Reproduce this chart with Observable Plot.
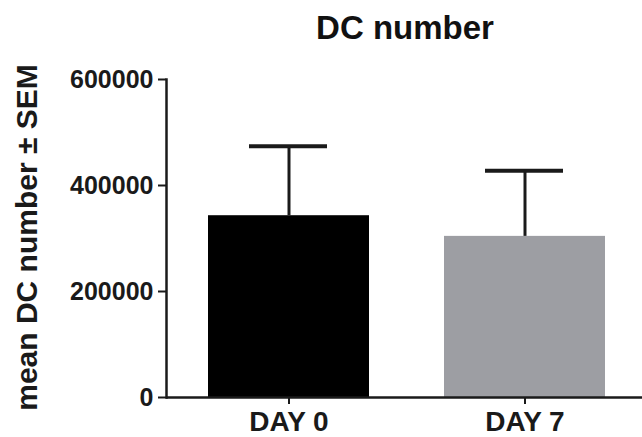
<!DOCTYPE html>
<html>
<head>
<meta charset="utf-8">
<script src="https://cdn.jsdelivr.net/npm/d3@7"></script>
<script src="https://cdn.jsdelivr.net/npm/@observablehq/plot@0.6"></script>
<style>
  html, body { margin: 0; padding: 0; background: #fff; }
  #wrap { width: 642px; font-family: "Liberation Sans", Arial, sans-serif; }
  #title { box-sizing: border-box; height: 50px; padding-top: 9px; line-height: 38px;
           margin-left: 168px; width: 474px; text-align: center;
           font-size: 33px; font-weight: bold; color: #111; }
</style>
</head>
<body>
<div id="wrap">
  <div id="title">DC number</div>
  <div id="chart"></div>
</div>
<script>
const days = ["DAY 0", "DAY 7"];
const means = [343000, 304000];
const sems = [131000, 124000];
const yTicks = [0, 200000, 400000, 600000];
const colors = ["#000000", "#9d9ea3"];

const data = days.map((d, i) => ({day: d, mean: means[i], upper: means[i] + sems[i], color: colors[i]}));

const ink = "#1a1a1a";
const plot = Plot.plot({
  width: 642,
  height: 387,
  marginTop: 29,
  marginBottom: 40,
  marginLeft: 166,
  marginRight: 0,
  style: {fontFamily: "Liberation Sans, Arial, sans-serif", fontWeight: "bold", color: ink, background: "#fff"},
  x: {domain: days, paddingInner: 0.316, paddingOuter: 0.1624, align: 0.53, axis: null},
  y: {domain: [0, 600000], axis: null},
  color: {type: "identity"},
  marks: [
    Plot.barY(data, {x: "day", y: "mean", fill: "color"}),
    Plot.ruleX(data, {x: "day", y1: "mean", y2: "upper", stroke: ink, strokeWidth: 3}),
    Plot.tickY(data, {x: "day", y: "upper", stroke: ink, strokeWidth: 4, insetLeft: 41, insetRight: 42}),
    Plot.frame({anchor: "left", stroke: ink, strokeWidth: 2.5}),
    Plot.ruleY([0], {stroke: ink, strokeWidth: 2.5}),
    Plot.axisY({ticks: yTicks, tickFormat: d => String(d), tickSize: 8, tickPadding: 5,
                fontSize: 25, fontWeight: "bold", stroke: ink, strokeWidth: 2, label: null}),
    Plot.axisX({tickSize: 7, tickPadding: 7, fontSize: 28, fontWeight: "bold",
                stroke: ink, strokeWidth: 2, label: null}),
    Plot.text(["mean DC number \u00b1 SEM"], {frameAnchor: "left", text: d => d, rotate: -90,
                dx: -139, dy: -1, fontSize: 30, fontWeight: "bold", fill: ink,
                textAnchor: "middle", lineAnchor: "middle"})
  ]
});
document.getElementById("chart").appendChild(plot);
</script>
</body>
</html>
